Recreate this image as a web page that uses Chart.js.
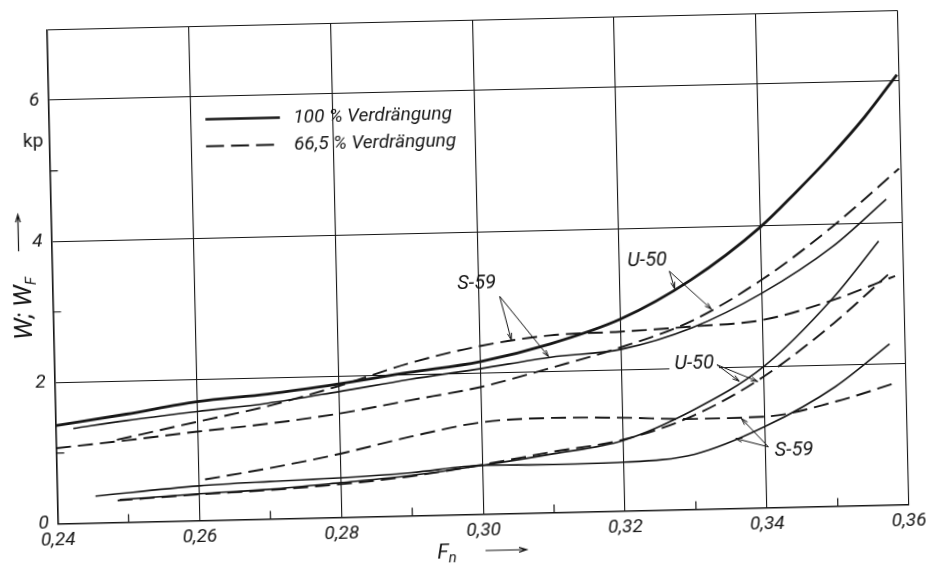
<!DOCTYPE html>
<html>
<head>
<meta charset="utf-8">
<script src="https://cdn.jsdelivr.net/npm/chart.js@4.4.1/dist/chart.umd.min.js"></script>
<style>
  html, body { margin: 0; padding: 0; background: #fff; overflow: hidden; }
  #sheet { position: absolute; left: 0; top: 0; width: 926px; height: 569px;
           transform: rotate(-1.3deg); transform-origin: 463px 284.5px; }
  canvas { display: block; }
</style>
</head>
<body>
<div id="sheet"><canvas id="chart" width="926" height="569"></canvas></div>
<script>
// Froude number (x) against resistance in kp (y)

// U-50, 100 % Verdrängung, total resistance
const u50FullX = [0.24, 0.25, 0.26, 0.27, 0.28, 0.29, 0.30, 0.31, 0.32, 0.33, 0.34, 0.345, 0.35, 0.355, 0.3597];
const u50FullY = [1.39, 1.53, 1.685, 1.77, 1.89, 2.03, 2.16, 2.39, 2.72, 3.25, 3.98, 4.45, 4.95, 5.5, 6.09];
// U-50, 66,5 % Verdrängung, total resistance
const u50PartX = [0.24, 0.25, 0.26, 0.27, 0.28, 0.29, 0.30, 0.31, 0.32, 0.33, 0.34, 0.35, 0.3597];
const u50PartY = [1.07, 1.16, 1.26, 1.35, 1.47, 1.635, 1.80, 2.05, 2.32, 2.67, 3.23, 3.95, 4.76];
// S-59, 100 % Verdrängung, total resistance
const s59FullX = [0.2425, 0.25, 0.26, 0.27, 0.28, 0.29, 0.30, 0.31, 0.32, 0.33, 0.34, 0.35, 0.3578];
const s59FullY = [1.344, 1.44, 1.545, 1.64, 1.78, 1.93, 2.06, 2.2, 2.29, 2.57, 3.04, 3.67, 4.33];
// S-59, 66,5 % Verdrängung, total resistance
const s59PartX = [0.2486, 0.26, 0.27, 0.28, 0.29, 0.30, 0.31, 0.32, 0.33, 0.34, 0.35, 0.3588];
const s59PartY = [1.17, 1.40, 1.60, 1.86, 2.16, 2.38, 2.51, 2.54, 2.59, 2.66, 2.92, 3.24];

// U-50, 100 % Verdrängung, lower curve
const u50FullLoX = [0.2488, 0.26, 0.27, 0.28, 0.29, 0.30, 0.31, 0.32, 0.33, 0.34, 0.35, 0.3566];
const u50FullLoY = [0.32, 0.38, 0.42, 0.49, 0.57, 0.69, 0.83, 1.00, 1.41, 2.0, 2.95, 3.74];
// U-50, 66,5 % Verdrängung, lower curve
const u50PartLoX = [0.2485, 0.26, 0.27, 0.28, 0.29, 0.30, 0.31, 0.32, 0.33, 0.34, 0.35, 0.3578];
const u50PartLoY = [0.31, 0.37, 0.41, 0.47, 0.56, 0.70, 0.86, 1.01, 1.33, 1.86, 2.59, 3.26];
// S-59, 100 % Verdrängung, lower curve
const s59FullLoX = [0.2454, 0.26, 0.27, 0.28, 0.29, 0.30, 0.31, 0.32, 0.33, 0.34, 0.35, 0.3578];
const s59FullLoY = [0.38, 0.49, 0.53, 0.56, 0.61, 0.69, 0.68, 0.69, 0.78, 1.15, 1.69, 2.28];
// S-59, 66,5 % Verdrängung, lower curve
const s59PartLoX = [0.2609, 0.27, 0.28, 0.29, 0.30, 0.31, 0.32, 0.33, 0.34, 0.35, 0.3587];
const s59PartLoY = [0.58, 0.72, 0.90, 1.12, 1.30, 1.34, 1.32, 1.28, 1.29, 1.48, 1.73];

// axis ranges and tick labels
const xRange = [0.24, 0.36];
const yRange = [0, 7];
const xTickLabels = ['0,24', '0,26', '0,28', '0,30', '0,32', '0,34', '0,36'];
const yTickLabels = ['0', '2', '4', '6'];
const legendLabels = ['100 % Verdrängung', '66,5 % Verdrängung'];

const INK = '#161616';
const FONT = 'Roboto, "Liberation Sans", sans-serif';
const DASH = [15, 7];

function pts(xs, ys) { return xs.map((x, i) => ({ x: x, y: ys[i] })); }
function series(label, xs, ys, width, dashed) {
  return {
    label: label, data: pts(xs, ys), showLine: true, fill: false,
    borderColor: INK, borderWidth: width, borderDash: dashed ? DASH : [],
    cubicInterpolationMode: 'monotone', pointRadius: 0, pointHoverRadius: 0
  };
}

const datasets = [
  series('U-50 ' + legendLabels[0], u50FullX, u50FullY, 2.8, false),
  series('U-50 ' + legendLabels[1], u50PartX, u50PartY, 1.9, true),
  series('S-59 ' + legendLabels[0], s59FullX, s59FullY, 1.6, false),
  series('S-59 ' + legendLabels[1], s59PartX, s59PartY, 1.9, true),
  series('U-50 ' + legendLabels[0], u50FullLoX, u50FullLoY, 1.6, false),
  series('U-50 ' + legendLabels[1], u50PartLoX, u50PartLoY, 1.9, true),
  series('S-59 ' + legendLabels[0], s59FullLoX, s59FullLoY, 1.6, false),
  series('S-59 ' + legendLabels[1], s59PartLoX, s59PartLoY, 1.9, true)
];

// curve labels with their leader arrows (value coordinates)
const callouts = [
  { text: 'S-59', at: [0.2998, 3.26], from: [0.3030, 3.08], to: [[0.3045, 2.46], [0.3097, 2.21]], patch: false },
  { text: 'U-50', at: [0.3239, 3.54], from: [0.3270, 3.38], to: [[0.3277, 3.13], [0.3328, 2.83]], patch: false },
  { text: 'U-50', at: [0.3302, 2.06], from: [0.3334, 2.04], to: [[0.3365, 1.80], [0.3391, 1.79]], patch: true },
  { text: 'S-59', at: [0.3440, 0.80], from: [0.3404, 0.86], to: [[0.3367, 1.27], [0.3358, 0.99]], patch: false }
];

function hundredths(v) { return Math.round(v * 100); }

function arrow(ctx, x0, y0, x1, y1, head) {
  const a = Math.atan2(y1 - y0, x1 - x0);
  ctx.beginPath();
  ctx.moveTo(x0, y0); ctx.lineTo(x1, y1);
  ctx.moveTo(x1 - head * Math.cos(a - 0.3), y1 - head * Math.sin(a - 0.3));
  ctx.lineTo(x1, y1);
  ctx.lineTo(x1 - head * Math.cos(a + 0.3), y1 - head * Math.sin(a + 0.3));
  ctx.stroke();
}

const decorations = {
  id: 'decorations',
  beforeDraw(chart) {
    const ctx = chart.ctx;
    ctx.save();
    ctx.fillStyle = '#fff';
    ctx.fillRect(0, 0, chart.width, chart.height);
    ctx.restore();
  },
  beforeDatasetsDraw(chart) {
    const ctx = chart.ctx, xs = chart.scales.x, ys = chart.scales.y, ca = chart.chartArea;
    ctx.save();
    // short inner ticks at the odd values
    ctx.strokeStyle = INK; ctx.lineWidth = 1.2;
    ctx.beginPath();
    for (let h = 25; h <= 35; h += 2) {
      const px = xs.getPixelForValue(h / 100);
      ctx.moveTo(px, ca.bottom); ctx.lineTo(px, ca.bottom - 8);
    }
    for (let v = 1; v <= 5; v += 2) {
      const py = ys.getPixelForValue(v);
      ctx.moveTo(ca.left, py); ctx.lineTo(ca.left + 8, py);
    }
    ctx.stroke();
    // white ground under labels that sit on a grid line
    ctx.font = 'italic 20px ' + FONT;
    ctx.fillStyle = '#fff';
    callouts.filter(c => c.patch).forEach(c => {
      const w = ctx.measureText(c.text).width;
      const px = xs.getPixelForValue(c.at[0]), py = ys.getPixelForValue(c.at[1]);
      ctx.fillRect(px - w / 2 - 5, py - 9, w + 10, 18);
    });
    ctx.restore();
  },
  afterDatasetsDraw(chart) {
    const ctx = chart.ctx, xs = chart.scales.x, ys = chart.scales.y, ca = chart.chartArea;
    ctx.save();
    ctx.fillStyle = INK; ctx.strokeStyle = INK;

    // legend
    const lx0 = xs.getPixelForValue(0.2621), lx1 = xs.getPixelForValue(0.2726);
    const tx = xs.getPixelForValue(0.2745);
    const rows = [5.68, 5.30];
    ctx.font = 'italic 19px ' + FONT;
    ctx.textBaseline = 'middle'; ctx.textAlign = 'left';
    rows.forEach((v, i) => {
      const py = ys.getPixelForValue(v);
      ctx.lineWidth = i === 0 ? 2.6 : 2;
      ctx.setLineDash(i === 0 ? [] : [18, 7]);
      ctx.beginPath(); ctx.moveTo(lx0, py); ctx.lineTo(lx1, py); ctx.stroke();
      ctx.setLineDash([]);
      ctx.fillText(legendLabels[i], tx, py + 1);
    });

    // curve labels and leaders
    ctx.font = 'italic 20px ' + FONT;
    ctx.textAlign = 'center'; ctx.textBaseline = 'middle';
    ctx.lineWidth = 1;
    callouts.forEach(c => {
      ctx.fillText(c.text, xs.getPixelForValue(c.at[0]), ys.getPixelForValue(c.at[1]));
      const fx = xs.getPixelForValue(c.from[0]), fy = ys.getPixelForValue(c.from[1]);
      c.to.forEach(t => arrow(ctx, fx, fy, xs.getPixelForValue(t[0]), ys.getPixelForValue(t[1]), 7));
    });

    // y-axis unit and title
    ctx.font = '19px ' + FONT;
    ctx.textAlign = 'center';
    ctx.fillText('kp', ca.left - 16, ys.getPixelForValue(5.41));

    const tyc = ys.getPixelForValue(3.06);
    ctx.save();
    ctx.translate(ca.left - 30, tyc);
    ctx.rotate(-Math.PI / 2);
    ctx.textAlign = 'left'; ctx.textBaseline = 'alphabetic';
    ctx.font = 'italic 25px ' + FONT;
    const main = 'W; W';
    const mw = ctx.measureText(main).width;
    ctx.font = 'italic 15px ' + FONT;
    const sw = ctx.measureText('F').width;
    const start = -(mw + sw) / 2;
    ctx.font = 'italic 25px ' + FONT;
    ctx.fillText(main, start, 8);
    ctx.font = 'italic 15px ' + FONT;
    ctx.fillText('F', start + mw, 13);
    ctx.restore();

    ctx.lineWidth = 1.2;
    const ax = ca.left - 33;
    arrow(ctx, ax, ys.getPixelForValue(3.87), ax, ys.getPixelForValue(4.39), 8);

    // x-axis title
    ctx.textAlign = 'left'; ctx.textBaseline = 'alphabetic';
    ctx.font = 'italic 21px ' + FONT;
    const fx = xs.getPixelForValue(0.2934);
    ctx.fillText('F', fx, ca.bottom + 43);
    const fw = ctx.measureText('F').width;
    ctx.font = 'italic 15px ' + FONT;
    ctx.fillText('n', fx + fw, ca.bottom + 47);
    arrow(ctx, xs.getPixelForValue(0.3002), ca.bottom + 36.5, xs.getPixelForValue(0.3060), ca.bottom + 36.5, 8);

    ctx.restore();
  }
};

const chart = new Chart(document.getElementById('chart'), {
  type: 'scatter',
  data: { datasets: datasets },
  options: {
    responsive: false,
    animation: false,
    devicePixelRatio: 1,
    layout: { padding: { top: 17.5, right: 16.5, left: 0, bottom: 0 } },
    plugins: { legend: { display: false }, tooltip: { enabled: false } },
    events: [],
    scales: {
      x: {
        type: 'linear', min: xRange[0], max: xRange[1],
        afterFit(s) { s.height = 54.5; },
        ticks: {
          stepSize: 0.01, autoSkip: false, maxRotation: 0, minRotation: 0, padding: 5,
          color: INK, font: { family: FONT, size: 19, style: 'italic' },
          callback(v) {
            const h = hundredths(v);
            return h % 2 === 0 ? xTickLabels[(h - 24) / 2] : '';
          }
        },
        grid: {
          drawTicks: false, lineWidth: 1.1,
          color(c) { return hundredths(c.tick.value) % 2 === 0 ? INK : 'rgba(0,0,0,0)'; }
        },
        border: { color: INK, width: 1.6 }
      },
      y: {
        type: 'linear', min: yRange[0], max: yRange[1],
        afterFit(s) { s.width = 52.5; },
        ticks: {
          stepSize: 1, padding: 9,
          color: INK, font: { family: FONT, size: 19, style: 'italic' },
          callback(v) {
            const r = Math.round(v);
            return (r % 2 === 0 && r < 7) ? yTickLabels[r / 2] : '';
          }
        },
        grid: {
          drawTicks: false, lineWidth: 1.1,
          color(c) { const r = Math.round(c.tick.value); return (r % 2 === 0 || r === 7) ? INK : 'rgba(0,0,0,0)'; }
        },
        border: { color: INK, width: 1.6 }
      }
    }
  },
  plugins: [decorations]
});

// pin the plot frame to its intended place
(function pinArea() {
  const target = { left: 52.5, top: 17.5, right: 909.5, bottom: 514.5 };
  const pad = chart.options.layout.padding;
  for (let i = 0; i < 3; i++) {
    const ca = chart.chartArea;
    pad.top += target.top - ca.top;
    pad.left += target.left - ca.left;
    pad.right += ca.right - target.right;
    pad.bottom += ca.bottom - target.bottom;
    chart.update();
  }
})();
</script>
</body>
</html>
